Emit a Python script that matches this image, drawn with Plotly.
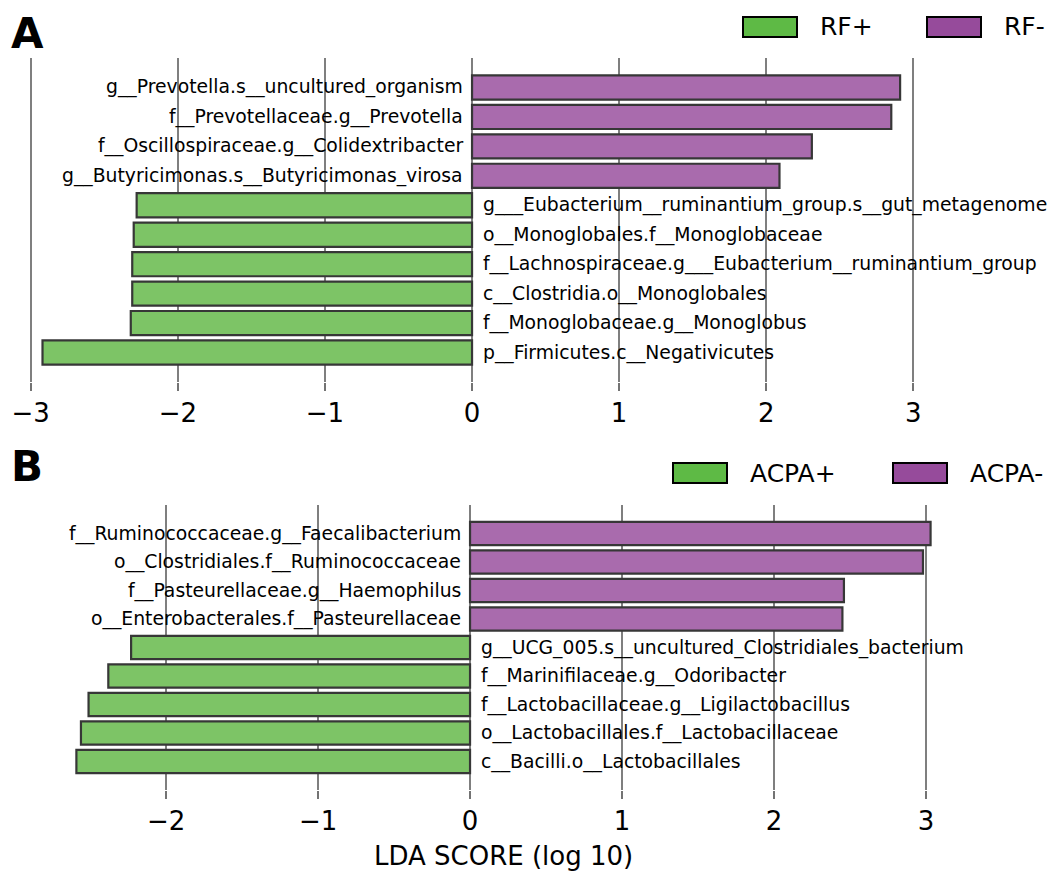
import plotly.graph_objects as go

# ---------------- data ----------------
# Panel A (top to bottom)
a_neg_group = "RF-"
a_pos_group = "RF+"
a_labels = [
    "g__Prevotella.s__uncultured_organism",
    "f__Prevotellaceae.g__Prevotella",
    "f__Oscillospiraceae.g__Colidextribacter",
    "g__Butyricimonas.s__Butyricimonas_virosa",
    "g___Eubacterium__ruminantium_group.s__gut_metagenome",
    "o__Monoglobales.f__Monoglobaceae",
    "f__Lachnospiraceae.g___Eubacterium__ruminantium_group",
    "c__Clostridia.o__Monoglobales",
    "f__Monoglobaceae.g__Monoglobus",
    "p__Firmicutes.c__Negativicutes",
]
a_scores = [2.91, 2.85, 2.31, 2.09, -2.28, -2.30, -2.31, -2.31, -2.32, -2.92]

# Panel B (top to bottom)
b_neg_group = "ACPA-"
b_pos_group = "ACPA+"
b_labels = [
    "f__Ruminococcaceae.g__Faecalibacterium",
    "o__Clostridiales.f__Ruminococcaceae",
    "f__Pasteurellaceae.g__Haemophilus",
    "o__Enterobacterales.f__Pasteurellaceae",
    "g__UCG_005.s__uncultured_Clostridiales_bacterium",
    "f__Marinifilaceae.g__Odoribacter",
    "f__Lactobacillaceae.g__Ligilactobacillus",
    "o__Lactobacillales.f__Lactobacillaceae",
    "c__Bacilli.o__Lactobacillales",
]
b_scores = [3.03, 2.98, 2.46, 2.45, -2.23, -2.38, -2.51, -2.56, -2.59]

tick_vals = [-3, -2, -1, 0, 1, 2, 3]
tick_text = ["\u22123", "\u22122", "\u22121", "0", "1", "2", "3"]
x_title = "LDA SCORE (log 10)"

# ---------------- style ----------------
GREEN_BAR = "rgb(125,196,102)"
PURPLE_BAR = "rgb(169,107,173)"
GREEN_LEG = "rgb(94,186,69)"
PURPLE_LEG = "rgb(150,75,155)"
EDGE = "rgb(55,55,55)"
FONT = "DejaVu Sans"
W, H = 1047, 871


def px_x(p):
    return p / W


def px_y(p):
    return 1 - p / H


fig = go.Figure()

panels = [
    dict(labels=a_labels, scores=a_scores, pos=a_pos_group, neg=a_neg_group,
         xa="x", ya="y", xrange=[-3.073, 3.861], ydom=[px_y(382), px_y(58)],
         letter="A", letter_y=33, leg_y=27,
         leg=[(743, 818), (927, 1002)]),
    dict(labels=b_labels, scores=b_scores, pos=b_pos_group, neg=b_neg_group,
         xa="x2", ya="y2", xrange=[-2.961, 3.75], ydom=[px_y(790), px_y(505)],
         letter="B", letter_y=466, leg_y=473,
         leg=[(673, 748), (893, 968)]),
]

annotations = []
shapes = []
for i, p in enumerate(panels):
    labels, scores = p["labels"], p["scores"]
    colors = [PURPLE_BAR if s > 0 else GREEN_BAR for s in scores]
    fig.add_trace(go.Bar(
        x=scores, y=labels, orientation="h",
        marker=dict(color=colors, line=dict(color=EDGE, width=2.2)),
        width=0.82, xaxis=p["xa"], yaxis=p["ya"], showlegend=False,
        hoverinfo="x+y",
    ))
    for lab, s in zip(labels, scores):
        annotations.append(dict(
            x=0, y=lab, xref=p["xa"], yref=p["ya"], text=lab, showarrow=False,
            xanchor="right" if s > 0 else "left", yanchor="middle",
            xshift=-7 if s > 0 else 9,
            font=dict(family=FONT, size=18.8, color="black"),
        ))
    n = len(labels)
    suffix = "" if i == 0 else "2"
    fig.update_layout(**{
        "xaxis" + suffix: dict(
            domain=[px_x(20), px_x(1040)], range=p["xrange"], anchor=p["ya"],
            tickvals=tick_vals, ticktext=tick_text, showgrid=True,
            gridcolor="rgba(0,0,0,0.5)", gridwidth=2, zeroline=False,
            showline=False, ticks="outside", ticklen=8, tickwidth=2,
            tickcolor="rgba(0,0,0,0.55)", layer="above traces",
            automargin=False,
            tickfont=dict(family=FONT, size=26, color="black"),
        ),
        "yaxis" + suffix: dict(
            domain=p["ydom"], anchor=p["xa"], type="category",
            categoryorder="array", categoryarray=labels,
            range=[n - 1 + 1.0, -1.0], showticklabels=False, automargin=False,
            showgrid=False, zeroline=False, showline=False, ticks="",
        ),
    })
    # panel letter
    annotations.append(dict(
        x=px_x(9), y=px_y(p["letter_y"]), xref="paper", yref="paper",
        text="<b>%s</b>" % p["letter"], showarrow=False, xanchor="left",
        yanchor="middle", font=dict(family=FONT, size=42, color="black"),
    ))
    # legend (swatch + text)
    items = [(p["pos"], GREEN_LEG, p["leg"][0]), (p["neg"], PURPLE_LEG, p["leg"][1])]
    for name, col, (sx, tx) in items:
        shapes.append(dict(
            type="rect", xref="paper", yref="paper",
            x0=px_x(sx), x1=px_x(sx + 54),
            y0=px_y(p["leg_y"] + 10), y1=px_y(p["leg_y"] - 10),
            fillcolor=col, line=dict(color="black", width=2),
        ))
        annotations.append(dict(
            x=px_x(tx), y=px_y(p["leg_y"]), xref="paper", yref="paper",
            text=name, showarrow=False, xanchor="left", yanchor="middle",
            font=dict(family=FONT, size=25, color="black"),
        ))

annotations.append(dict(
    x=px_x(503), y=px_y(856), xref="paper", yref="paper", text=x_title,
    showarrow=False, xanchor="center", yanchor="middle",
    font=dict(family=FONT, size=26, color="black"),
))

fig.update_layout(
    width=W, height=H, margin=dict(l=0, r=0, t=0, b=0, pad=0),
    paper_bgcolor="white", plot_bgcolor="white",
    barmode="overlay", showlegend=False,
    annotations=annotations, shapes=shapes,
    font=dict(family=FONT),
)

fig.write_html(
    "out.html",
    config={"displayModeBar": False},
    post_script="document.body.style.margin='0';document.body.style.overflow='hidden';",
)
